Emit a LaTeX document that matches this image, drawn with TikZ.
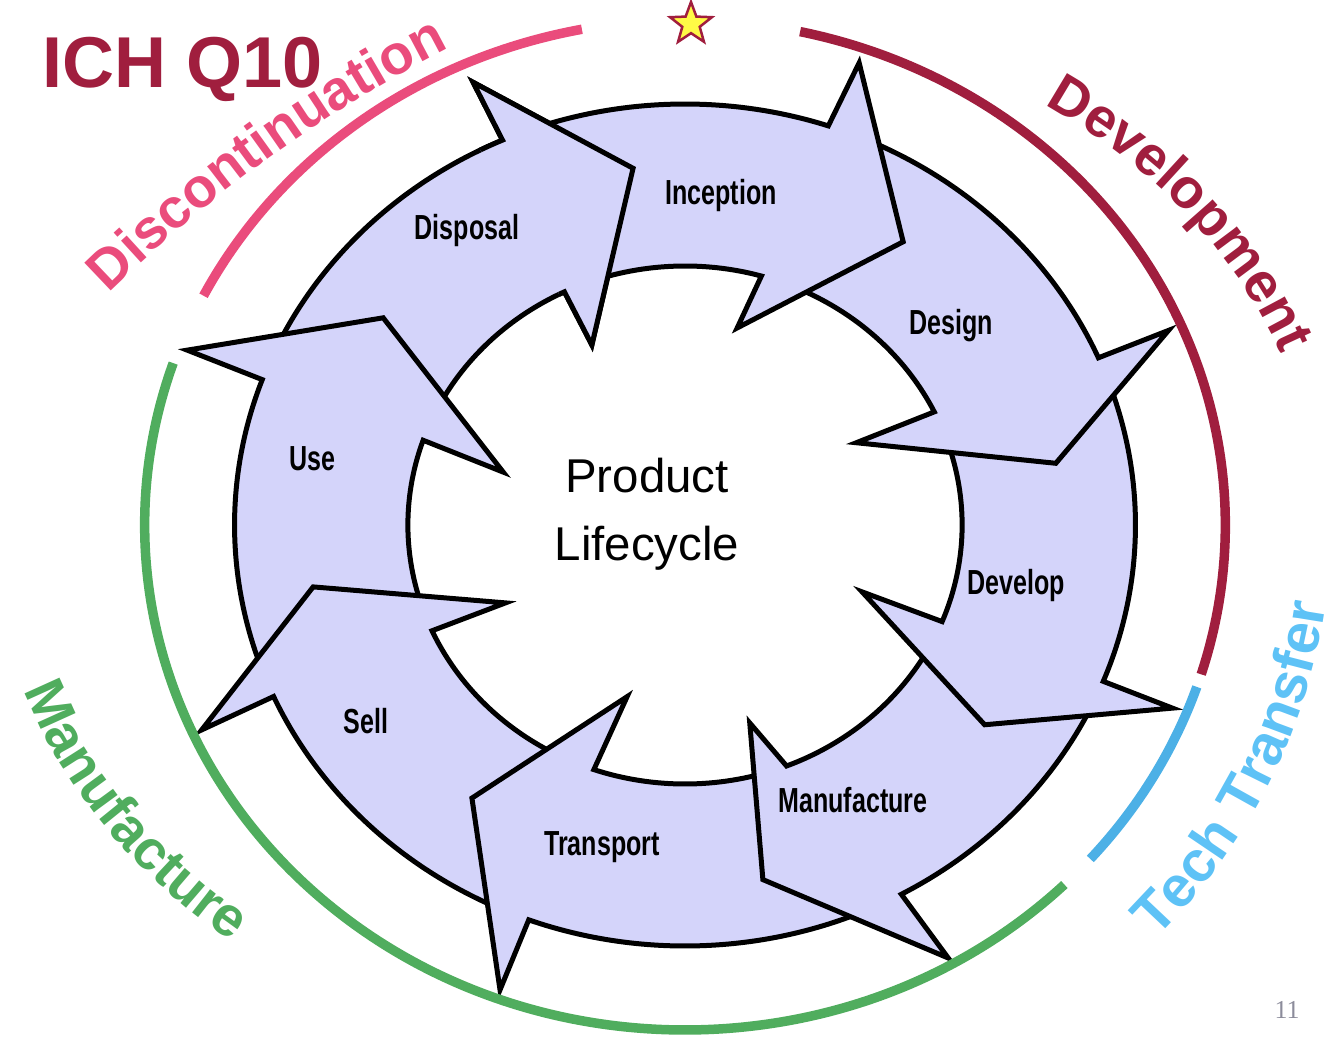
\documentclass[tikz,border=0pt]{standalone}
\usepackage{fontspec}
\setmainfont{Liberation Sans}
\newfontfamily\arrowfont{Liberation Sans}[FakeStretch=0.72]
\newfontfamily\pagefont{Liberation Serif}
\usepackage{xcolor}
\usepackage{tikz}
\usetikzlibrary{shapes.geometric, decorations.text}
\definecolor{ichred}{RGB}{160,30,62}
\definecolor{discpink}{RGB}{234,76,124}
\definecolor{techblue}{RGB}{76,176,230}
\definecolor{techtext}{RGB}{94,194,246}
\definecolor{mfgreen}{RGB}{80,173,94}
\definecolor{arrowfill}{RGB}{212,212,250}
\definecolor{staryellow}{RGB}{255,250,70}
\definecolor{pagegray}{RGB}{140,140,155}
\newcommand{\phasefont}{\bfseries\fontsize{31.7}{34}\selectfont}
\tikzstyle{lifearrow} = [fill=arrowfill, draw=black, line width=0.1cm, line join=miter]
\tikzstyle{arrowlabel} = [font=\arrowfont\bfseries\fontsize{19.8}{22}\selectfont, inner sep=0pt]
\tikzstyle{phasearc} = [line width=0.19cm]
\tikzstyle{phasetext} = [decorate, decoration={text along path, text align=center}]

\begin{document}
\begin{tikzpicture}[x=0.02cm, y=0.02cm]
    \useasboundingbox (0,0) rectangle (1334,1046);

    % ring of arrows, last one first so every head lies over the next tail
    \begin{scope}[shift={(685,521)}, xscale=1.07]
        \foreach \aOn/\aOb/\rOb/\aTip/\rTip/\aIb/\rIb/\aIn/\tOut/\tMid/\tIn in {
            336.1/335.9/485/352.25/360/334.2/200/334.2/292.2/302.3/291.1,
            290.2/290.6/497/306.3/350/287.3/178/289.1/247.96/255.9/247.9,
            245.96/245.6/496/259.9/353/245.1/185/245.9/202.3/212.1/201.2,
            200.3/200.4/496/216.1/338/197.5/180/199.2/153.3/164.4/160.5,
            151.3/150.4/498/168.4/362/163/207/158.5/113.8/121.5/113.9,
            111.8/111.9/491/125.5/344/112/178.5/111.9/68.6/75.9/66.1,
            66.6/66.7/492/79.9/352/62.8/180/64.1/20.55/31.75/18,
            18.55/19.4/490/35.75/349/13.9/203/16/-21.9/-11.75/-23.8}
            \draw[lifearrow] ({90-\tOut}:421) arc[start angle={90-\tOut}, end angle={90-\aOn}, radius=421]
                -- ({90-\aOb}:\rOb) -- ({90-\aTip}:\rTip) -- ({90-\aIb}:\rIb) -- ({90-\aIn}:259)
                arc[start angle={90-\aIn}, end angle={90-\tIn}, radius=259] -- ({90-\tMid}:345) -- cycle;

        % head of Disposal again, over the tail of Inception
        \begin{scope}
            \clip (0,0) -- (117:700) -- (105:700) -- (93:700) -- cycle;
            \draw[lifearrow] ({90-292.2}:421) arc[start angle={90-292.2}, end angle={90-336.1}, radius=421]
                -- ({90-335.9}:485) -- ({90-352.25}:360) -- ({90-334.2}:200) -- ({90-334.2}:259)
                arc[start angle={90-334.2}, end angle={90-291.1}, radius=259] -- ({90-302.3}:345) -- cycle;
        \end{scope}

        % phase arcs
        \draw[phasearc, discpink] (153:505) arc[start angle=153, end angle=101, radius=505];
        \draw[phasearc, ichred] (77.7:505) arc[start angle=77.7, end angle=-17.2, radius=505];
        \draw[phasearc, techblue] (-18.7:505) arc[start angle=-18.7, end angle=-41.4, radius=505];
        \draw[phasearc, mfgreen] (-45.4:505) arc[start angle=-45.4, end angle=-198.7, radius=505];
    \end{scope}

    % phase names along the arcs
    \begin{scope}[shift={(1088.7,-247.2)}]
        \path[phasetext, decoration={text={|\phasefont\color{discpink}|Discontinuation}}]
            (140.8:1400) arc[start angle=140.8, end angle=110.8, radius=1400];
    \end{scope}
    \begin{scope}[shift={(685,521)}]
        \path[phasetext, decoration={text={|\phasefont\color{ichred}|Development}}]
            ({632*cos(71)},{511*sin(71)}) arc[start angle=71, end angle=1, x radius=632, y radius=511];
        \path[phasetext, decoration={text={|\phasefont\color{mfgreen}|Manufacture}}]
            ({693*cos(176.7)},{551*sin(176.7)}) arc[start angle=176.7, end angle=246.7, x radius=693, y radius=551];
        \path[phasetext, decoration={text={|\phasefont\fontsize{32.8}{35}\selectfont\color{techtext}|Tech Transfer}}]
            ({646*cos(-60)},{605*sin(-60)}) arc[start angle=-60, end angle=10, x radius=646, y radius=605];
    \end{scope}

    \node (inception) [arrowlabel] at (721,850) {Inception};
    \node (design)    [arrowlabel] at (951,720) {Design};
    \node (develop)   [arrowlabel] at (1016,460) {Develop};
    \node (manufact)  [arrowlabel] at (853,246) {Manufacture};
    \node (transport) [arrowlabel] at (602,199) {Transport};
    \node (sell)      [arrowlabel] at (366,325) {Sell};
    \node (use)       [arrowlabel] at (312,587) {Use};
    \node (disposal)  [arrowlabel] at (467,815) {Disposal};

    \node (lifecycle) [align=center, font=\fontsize{27}{38.5}\selectfont] at (647,532) {Product\\Lifecycle};

    \node (title) [anchor=base west, inner sep=0pt, text=ichred, font=\bfseries\fontsize{41}{46}\selectfont] at (42,958) {ICH Q10};
    \node (star) [star, star points=5, star point ratio=2.4, minimum size=0.88cm, inner sep=0pt,
        fill=staryellow, draw=ichred, line width=0.05cm] at (691,1022) {};
    \node (pagenum) [text=pagegray, font=\pagefont\fontsize{14.7}{16}\selectfont] at (1287,36) {11};
\end{tikzpicture}
\end{document}
